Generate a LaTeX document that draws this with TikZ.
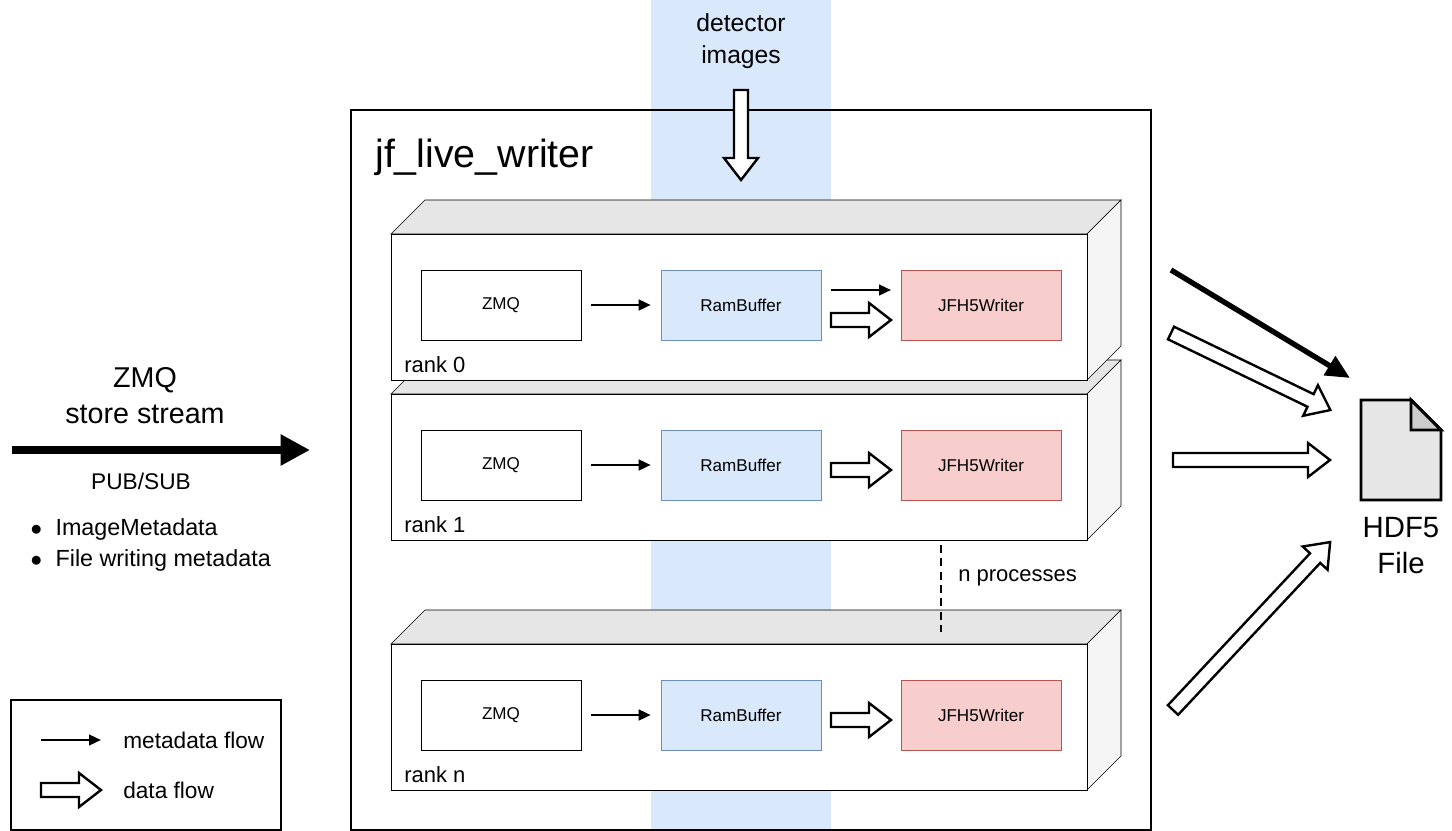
\documentclass[tikz,border=0pt]{standalone}
\usepackage{fontspec}
\setmainfont{Liberation Sans}
\usetikzlibrary{arrows.meta}
\definecolor{bband}{HTML}{DAE8FC}
\definecolor{bbord}{HTML}{6C8EBF}
\definecolor{rfill}{HTML}{F8CECC}
\definecolor{rbord}{HTML}{B85450}
\definecolor{topf}{HTML}{E6E6E6}
\definecolor{sidef}{HTML}{F5F5F5}
\tikzset{
  inbox/.style={draw, minimum width=120pt, minimum height=52.5pt, inner sep=0pt, font=\fontsize{12.8}{14}\selectfont},
  zmqbox/.style={inbox, fill=white},
  rambox/.style={inbox, fill=bband, draw=bbord},
  wrbox/.style={inbox, fill=rfill, draw=rbord},
  thin/.style={-{Triangle[length=9pt,width=8pt]}, line width=1.8pt},
  harrow/.style={draw=black, fill=white, line width=1.8pt, line join=miter},
  lbl/.style={anchor=west, inner sep=0pt, font=\fontsize{16.5}{18}\selectfont},
}
\newcommand\hollowarr[4]{% x, y, angle, length
  \draw[harrow,shift={(#1,#2)},rotate=#3] (0,-7)--({#4-22},-7)--({#4-22},-17)--(#4,0)--({#4-22},17)--({#4-22},7)--(0,7)--cycle;}
\newcommand\rankbox[3]{% ytop, name, label
  \fill[topf,draw=black] (391,#1)--(425,{#1-34})--(1121,{#1-34})--(1087,#1)--cycle;
  \fill[sidef,draw=black] (1087,#1)--(1121,{#1-34})--(1121,{#1+112})--(1087,{#1+146})--cycle;
  \draw[fill=white] (391,#1) rectangle (1087,{#1+146});
  \node[zmqbox] (z#2) at (501,{#1+71}) {ZMQ};
  \node[rambox] (r#2) at (741,{#1+71}) {RamBuffer};
  \node[wrbox] (w#2) at (981,{#1+71}) {JFH5Writer};
  \draw[thin] ([xshift=7.5pt]z#2.east) -- ([xshift=-7.5pt]r#2.west);
  \node[lbl] (l#2) at (404,{#1+131}) {#3};
}
\begin{document}
\begin{tikzpicture}[x=0.75pt,y=-0.75pt]
\useasboundingbox (0,0) rectangle (1452,831);
\fill[bband] (651,0) rectangle (831,831);
\draw[line width=0.8pt] (351,110) rectangle (1151,830);
\node[anchor=west, inner sep=0pt, font=\fontsize{29.5}{32}\selectfont] (title) at (375,157) {jf\_live\_writer};
\node[align=center, font=\fontsize{18.5}{23.5}\selectfont] (det) at (741,41) {detector\\images};
\hollowarr{741}{90}{-90}{90}
\rankbox{394}{1}{rank 1}
\rankbox{234}{0}{rank 0}
\rankbox{644}{n}{rank n}
\draw[thin] (831,290) -- (891,290);
\hollowarr{831}{320}{0}{60}
\hollowarr{831}{470}{0}{60}
\hollowarr{831}{720}{0}{60}
\draw[line width=1.5pt, dash pattern=on 6pt off 4pt] (941,545) -- (941,632);
\node[lbl, font=\fontsize{16.5}{18}\selectfont] (np) at (958,578) {n processes};
\node[align=center, font=\fontsize{21.5}{27}\selectfont] (zs) at (145,396) {ZMQ\\store stream};
\draw[-{Triangle[length=22pt,width=22pt]}, line width=6pt] (12,450) -- (310,450);
\node[font=\fontsize{17}{18}\selectfont] (ps) at (141,481) {PUB/SUB};
\node[anchor=west, align=left, font=\fontsize{17.5}{23}\selectfont] (bl) at (26,545) {$\bullet$\hspace{10pt}ImageMetadata\\$\bullet$\hspace{10pt}File writing metadata};
\draw[line width=0.8pt] (11,700) rectangle (281,830);
\coordinate (la) at (41,740); \coordinate (lb) at (101,740);
\draw[thin] (la) -- (lb);
\node[lbl, font=\fontsize{17}{18}\selectfont] (mf) at (123,740) {metadata flow};
\hollowarr{41}{790}{0}{60}
\node[lbl, font=\fontsize{17}{18}\selectfont] (df) at (123,790) {data flow};
\draw[line width=2.2pt, fill=topf, line join=miter] (1361,400) -- (1411,400) -- (1441,430) -- (1441,500) -- (1361,500) -- cycle;
\draw[line width=2.2pt, fill=black!20, line join=miter] (1411,400) -- (1411,430) -- (1441,430) -- cycle;
\node[align=center, font=\fontsize{22}{27}\selectfont] (hf) at (1401,546) {HDF5\\File};
\coordinate (ta) at (1171,270); \coordinate (tb) at (1350,378);
\draw[-{Triangle[length=18pt,width=16pt]}, line width=4pt] (ta) -- (tb);
\hollowarr{1171}{333}{-25.8}{177}
\hollowarr{1173}{460}{0}{157}
\hollowarr{1173}{710}{46.9}{230}
\end{tikzpicture}
\end{document}
